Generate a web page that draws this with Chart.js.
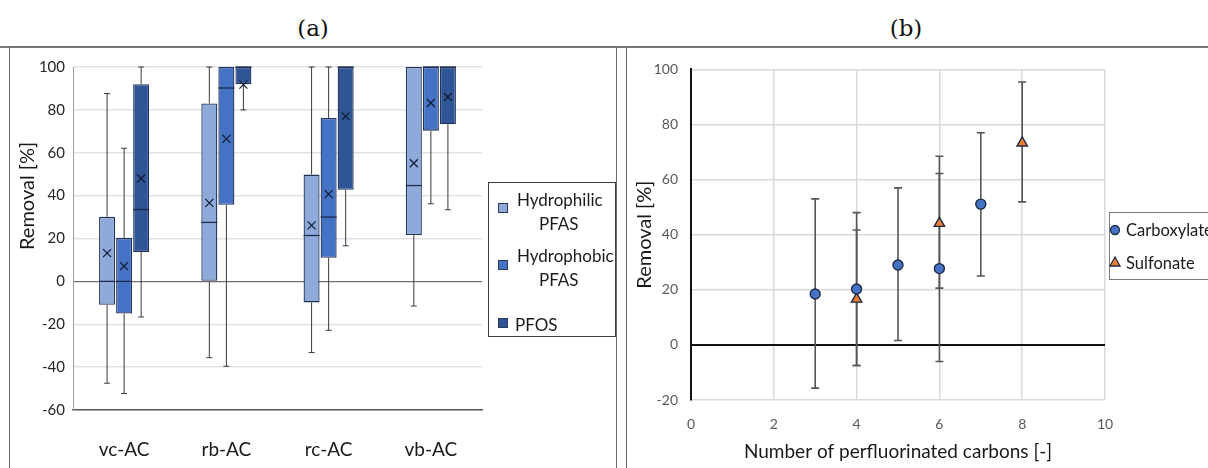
<!DOCTYPE html>
<html>
<head>
<meta charset="utf-8">
<script src="https://cdn.jsdelivr.net/npm/chart.js@4.4.1/dist/chart.umd.min.js"></script>
<style>
    body { margin: 0; background: #fff; width: 1208px; height: 468px; overflow: hidden; position: relative; font-family: Lato, sans-serif; color: #1a1a1a; }
    .abs { position: absolute; }
    .ttl { position: absolute; font-family: "DejaVu Serif", serif; font-size: 23px; line-height: 26px; width: 60px; text-align: center; color: #111; }
    .frame { position: absolute; border: 1.5px solid #6e6e6e; box-sizing: border-box; }
    .lg { position: absolute; font-size: 17px; line-height: 20px; color: #1a1a1a; white-space: nowrap; }
    .sq { position: absolute; width: 10px; height: 10px; border: 1.5px solid #2b3a5c; box-sizing: border-box; }
</style>
</head>
<body>
<div class="ttl" style="left:283px;top:15px">(a)</div>
<div class="ttl" style="left:876px;top:15px">(b)</div>
<div class="abs" style="left:0;top:46px;width:1208px;height:1.5px;background:#7a7a7a"></div>
<div class="frame" style="left:9px;top:46px;width:608px;height:440px"></div>
<div class="frame" style="left:626px;top:46px;width:600px;height:440px"></div>

<canvas id="chartA" class="abs" style="left:11px;top:48px" width="604" height="420"></canvas>
<canvas id="chartB" class="abs" style="left:628px;top:48px" width="580" height="420"></canvas>

<div class="lg" style="left:-34px;top:184px;width:120px;text-align:center;font-size:20px;line-height:24px;transform:rotate(-90deg)">Removal [%]</div>

<!-- legend (a) -->
<div class="frame" style="left:488px;top:182px;width:128px;height:155px;border-color:#404040"></div>
<div class="sq" style="left:498px;top:203px;background:#8eaadb"></div>
<div class="lg" style="left:517px;top:190px">Hydrophilic</div>
<div class="lg" style="left:539px;top:214px">PFAS</div>
<div class="sq" style="left:498px;top:260px;background:#4472c4"></div>
<div class="lg" style="left:517px;top:246px">Hydrophobic</div>
<div class="lg" style="left:539px;top:270px">PFAS</div>
<div class="sq" style="left:498px;top:318px;background:#2f5597"></div>
<div class="lg" style="left:515px;top:315px">PFOS</div>

<!-- legend (b) -->
<div class="frame" style="left:1109px;top:212px;width:120px;height:68px;border-color:#7a7a7a"></div>
<svg class="abs" style="left:1108px;top:222px" width="16" height="50">
    <circle cx="7" cy="8" r="4.5" fill="#4472c4" stroke="#1e2b45" stroke-width="1.3"></circle>
    <polygon points="7,35 2,44 12,44" fill="#ed7d31" stroke="#1e2b45" stroke-width="1.3"></polygon>
</svg>
<div class="lg" style="left:1126px;top:220px;font-size:16.5px">Carboxylate</div>
<div class="lg" style="left:1126px;top:253px;font-size:16.5px">Sulfonate</div>

<script>
    // ---- panel (a): box plots ----
    var categories = ['vc-AC', 'rb-AC', 'rc-AC', 'vb-AC'];

    var hydrophilicMin = [-47.5, -35.6, -33.2, -11.5];
    var hydrophilicQ1 = [-10.9, 0, -9.8, 21.6];
    var hydrophilicMedian = [0, 27.5, 21.4, 44.7];
    var hydrophilicQ3 = [30.1, 83, 49.8, 100];
    var hydrophilicMax = [87.6, 100, 100, 100];
    var hydrophilicMean = [13.2, 36.6, 26.1, 55.1];

    var hydrophobicMin = [-52.3, -39.6, -22.8, 36.2];
    var hydrophobicQ1 = [-15, 35.7, 11, 70.3];
    var hydrophobicMedian = [0, 90.2, 30, 100];
    var hydrophobicQ3 = [20.3, 100, 76.2, 100];
    var hydrophobicMax = [62.1, 100, 100, 100];
    var hydrophobicMean = [7.1, 66.5, 40.7, 83.2];

    var pfosMin = [-16.6, 80, 16.6, 33.4];
    var pfosQ1 = [13.7, 92, 42.7, 73.3];
    var pfosMedian = [33.5, 100, 100, 100];
    var pfosQ3 = [92, 100, 100, 100];
    var pfosMax = [100, 100, 100, 100];
    var pfosMean = [48, 91.8, 77, 86];

    // ---- panel (b): removal vs chain length ----
    var carboxylateX = [3, 4, 5, 6, 7];
    var carboxylateY = [18.5, 20.3, 29, 27.7, 51.1];
    var carboxylateHigh = [53, 48, 57, 62.2, 77];
    var carboxylateLow = [-15.7, -7.5, 1.6, -6, 25];

    var sulfonateX = [4, 6, 8];
    var sulfonateY = [16.6, 44.1, 73.3];
    var sulfonateHigh = [41.7, 68.5, 95.4];
    var sulfonateLow = [-7.5, 20.6, 51.9];

    function boxDataset(label, color, q1, q3, med, lo, hi, mean) {
        return {
            label: label,
            data: q1.map(function (v, i) { return [v, q3[i]]; }),
            backgroundColor: color,
            borderColor: '#22335a',
            borderWidth: 1.3,
            borderSkipped: false,
            clip: 6,
            median: med,
            whiskerLow: lo,
            whiskerHigh: hi,
            mean: mean
        };
    }

    var boxPlotPlugin = {
        id: 'boxPlot',
        afterDatasetsDraw: function (chart) {
            var ctx = chart.ctx;
            var y = chart.scales.y;
            chart.data.datasets.forEach(function (ds, i) {
                var meta = chart.getDatasetMeta(i);
                meta.data.forEach(function (bar, j) {
                    var x = bar.x;
                    var half = bar.width / 2;
                    var q1 = y.getPixelForValue(ds.data[j][0]);
                    var q3 = y.getPixelForValue(ds.data[j][1]);
                    var lo = y.getPixelForValue(ds.whiskerLow[j]);
                    var hi = y.getPixelForValue(ds.whiskerHigh[j]);
                    ctx.save();
                    ctx.strokeStyle = '#3a3a3a';
                    ctx.lineWidth = 1;
                    ctx.beginPath();
                    if (hi < q3 - 0.5) {
                        ctx.moveTo(x, q3); ctx.lineTo(x, hi);
                        ctx.moveTo(x - 3, hi); ctx.lineTo(x + 3, hi);
                    }
                    if (lo > q1 + 0.5) {
                        ctx.moveTo(x, q1); ctx.lineTo(x, lo);
                        ctx.moveTo(x - 3, lo); ctx.lineTo(x + 3, lo);
                    }
                    ctx.stroke();
                    // median
                    var m = y.getPixelForValue(ds.median[j]);
                    ctx.strokeStyle = '#1c2a4a';
                    ctx.lineWidth = 1.3;
                    ctx.beginPath();
                    ctx.moveTo(x - half, m); ctx.lineTo(x + half, m);
                    ctx.stroke();
                    // mean marker
                    var mm = y.getPixelForValue(ds.mean[j]);
                    ctx.strokeStyle = '#111a30';
                    ctx.lineWidth = 1.2;
                    ctx.beginPath();
                    ctx.moveTo(x - 4, mm - 4); ctx.lineTo(x + 4, mm + 4);
                    ctx.moveTo(x + 4, mm - 4); ctx.lineTo(x - 4, mm + 4);
                    ctx.stroke();
                    ctx.restore();
                });
            });
        }
    };

    new Chart(document.getElementById('chartA'), {
        type: 'bar',
        data: {
            labels: categories,
            datasets: [
                boxDataset('Hydrophilic PFAS', '#8eaadb', hydrophilicQ1, hydrophilicQ3, hydrophilicMedian, hydrophilicMin, hydrophilicMax, hydrophilicMean),
                boxDataset('Hydrophobic PFAS', '#4472c4', hydrophobicQ1, hydrophobicQ3, hydrophobicMedian, hydrophobicMin, hydrophobicMax, hydrophobicMean),
                boxDataset('PFOS', '#2f5597', pfosQ1, pfosQ3, pfosMedian, pfosMin, pfosMax, pfosMean)
            ]
        },
        options: {
            responsive: false,
            animation: false,
            layout: { padding: { left: 0, right: 133, top: 19, bottom: 0 } },
            plugins: { legend: { display: false }, tooltip: { enabled: false } },
            datasets: { bar: { categoryPercentage: 0.5, barPercentage: 0.94 } },
            scales: {
                x: {
                    afterFit: function (s) { s.height = 58; },
                    grid: { display: false },
                    border: { color: '#595959', width: 1.5 },
                    ticks: { padding: 20, color: '#1a1a1a', font: { family: 'Lato', size: 19 } }
                },
                y: {
                    min: -60,
                    max: 100,
                    afterFit: function (s) { s.width = 62; },
                    border: { color: '#a0a0a0', width: 1 },
                    grid: {
                        drawTicks: false,
                        color: function (c) { return c.tick.value === 0 ? '#707070' : '#e3e3e3'; },
                        lineWidth: function (c) { return c.tick.value === 0 ? 1.3 : 1.5; }
                    },
                    ticks: { stepSize: 20, padding: 8, color: '#262626', font: { family: 'Lato', size: 15 } }
                }
            }
        },
        plugins: [boxPlotPlugin]
    });

    var errorBarPlugin = {
        id: 'errorBars',
        beforeDatasetsDraw: function (chart) {
            var ctx = chart.ctx;
            var xs = chart.scales.x;
            var ys = chart.scales.y;
            ctx.save();
            ctx.strokeStyle = '#555';
            ctx.lineWidth = 1.6;
            chart.data.datasets.forEach(function (ds) {
                ds.data.forEach(function (p, j) {
                    var x = xs.getPixelForValue(p.x);
                    var top = ys.getPixelForValue(ds.high[j]);
                    var bot = ys.getPixelForValue(ds.low[j]);
                    ctx.beginPath();
                    ctx.moveTo(x, top); ctx.lineTo(x, bot);
                    ctx.moveTo(x - 4, top); ctx.lineTo(x + 4, top);
                    ctx.moveTo(x - 4, bot); ctx.lineTo(x + 4, bot);
                    ctx.stroke();
                });
            });
            ctx.restore();
        }
    };

    function toPoints(xs, ys) {
        return xs.map(function (v, i) { return { x: v, y: ys[i] }; });
    }

    new Chart(document.getElementById('chartB'), {
        type: 'scatter',
        data: {
            datasets: [{
                label: 'Carboxylate',
                data: toPoints(carboxylateX, carboxylateY),
                high: carboxylateHigh,
                low: carboxylateLow,
                pointStyle: 'circle',
                pointRadius: 5,
                backgroundColor: '#4472c4',
                borderColor: '#1e2b45',
                borderWidth: 1.4
            }, {
                label: 'Sulfonate',
                data: toPoints(sulfonateX, sulfonateY),
                high: sulfonateHigh,
                low: sulfonateLow,
                pointStyle: 'triangle',
                pointRadius: 6,
                backgroundColor: '#ed7d31',
                borderColor: '#1e2b45',
                borderWidth: 1.4
            }]
        },
        options: {
            responsive: false,
            animation: false,
            layout: { padding: { left: 0, right: 103, top: 20, bottom: 0 } },
            plugins: { legend: { display: false }, tooltip: { enabled: false } },
            scales: {
                x: {
                    type: 'linear',
                    min: 0,
                    max: 10,
                    afterFit: function (s) { s.height = 68; },
                    border: { display: false },
                    grid: { drawTicks: false, color: '#d9d9d9', lineWidth: 1.5 },
                    ticks: { stepSize: 2, padding: 16, color: '#595959', font: { family: 'Lato', size: 14 } },
                    title: {
                        display: true,
                        text: 'Number of perfluorinated carbons [-]',
                        color: '#1a1a1a',
                        font: { family: 'Lato', size: 19 },
                        padding: { top: 0, bottom: 5 }
                    }
                },
                y: {
                    min: -20,
                    max: 100,
                    afterFit: function (s) { s.width = 63; },
                    border: { color: '#111', width: 2 },
                    grid: {
                        drawTicks: false,
                        color: function (c) { return c.tick.value === 0 ? '#111' : '#d9d9d9'; },
                        lineWidth: function (c) { return c.tick.value === 0 ? 2 : 1.5; }
                    },
                    ticks: { stepSize: 20, padding: 13, color: '#595959', font: { family: 'Lato', size: 14 } },
                    title: {
                        display: true,
                        text: 'Removal [%]',
                        color: '#1a1a1a',
                        font: { family: 'Lato', size: 20 },
                        padding: { top: 5, bottom: 0 }
                    }
                }
            }
        },
        plugins: [errorBarPlugin]
    });
</script>
</body>
</html>
